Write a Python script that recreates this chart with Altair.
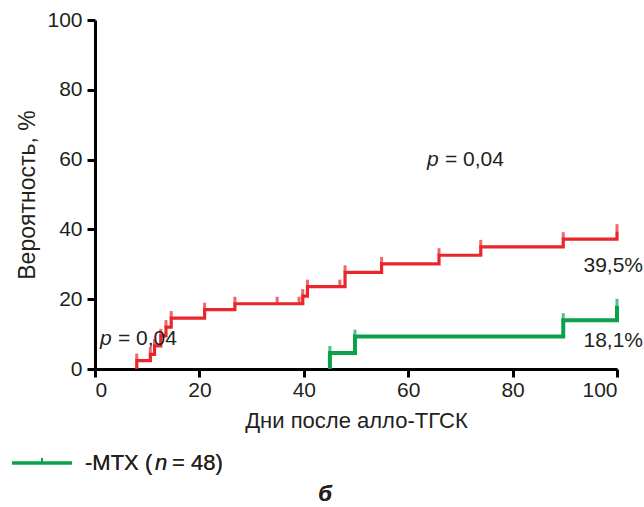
import altair as alt
import pandas as pd

# Cumulative incidence curves (days after allo-HSCT, probability in %)
red_days = [8, 10.6, 11.4, 12.6, 13.6, 14.6, 21, 26.8, 39.8, 40.7, 47.9, 54.9, 65.9, 73.9, 89.7, 100]
red_prob = [2.4, 4.2, 6.6, 9.5, 12.0, 14.6, 17.0, 18.7, 20.9, 23.6, 27.7, 30.1, 32.6, 35.0, 37.2, 39.5]
red_censored_days = [34.9, 39.1, 46.9]
red_censored_prob = [18.7, 18.7, 23.6]

green_days = [45, 49.8, 89.7, 100]
green_prob = [4.6, 9.3, 14.0, 18.1]

x_ticks = [0, 20, 40, 60, 80, 100]
y_ticks = [0, 20, 40, 60, 80, 100]

p_value = "0,04"
p_positions_x = [63.6, 0.96]
p_positions_y = [60, 8.6]

legend_label = "-MTX ("
legend_n = "n"
legend_tail = "= 48)"
panel_letter = "б"

RED = "#e8262b"
GREEN = "#0ba14b"
INK = "#231f20"
FONT = "Liberation Sans"

series = {"red": (red_days, red_prob), "green": (green_days, green_prob)}

step_rows, jump_rows = [], []
for name, (days, prob) in series.items():
    step_rows.append({"series": name, "day": days[0], "prob": 0.0, "order": 0})
    for i, (d, p) in enumerate(zip(days, prob)):
        step_rows.append({"series": name, "day": d, "prob": p, "order": i + 1})
        jump_rows.append({"series": name, "day": d, "prob": p})
for d, p in zip(red_censored_days, red_censored_prob):
    jump_rows.append({"series": "red", "day": d, "prob": p})

steps = pd.DataFrame(step_rows)
marks = pd.DataFrame(jump_rows)
ends = pd.DataFrame([
    {"series": name, "day": days[-1], "prob": prob[-1],
     "label": f"{prob[-1]:.1f}%".replace(".", ",")}
    for name, (days, prob) in series.items()
])
pvals = pd.DataFrame({"day": p_positions_x, "prob": p_positions_y})

color = alt.Color("series:N", scale=alt.Scale(domain=["red", "green"], range=[RED, GREEN]), legend=None)
width = alt.StrokeWidth("series:N", scale=alt.Scale(domain=["red", "green"], range=[3.2, 4]), legend=None)

x_enc = alt.X(
    "day:Q",
    scale=alt.Scale(domain=[0, 100], nice=False),
    axis=alt.Axis(
        values=x_ticks, title="Дни после алло-ТГСК", grid=False,
        domainColor="black", domainWidth=3, tickColor="black", tickWidth=3, tickSize=8,
        labelFont=FONT, labelFontSize=21, labelColor=INK, labelPadding=2,
        titleFont=FONT, titleFontSize=22, titleFontWeight="normal", titleColor=INK, titlePadding=10,
    ),
)
y_enc = alt.Y(
    "prob:Q",
    scale=alt.Scale(domain=[0, 100], nice=False),
    axis=alt.Axis(
        values=y_ticks, title="Вероятность, %", grid=False,
        domainColor="black", domainWidth=3, tickColor="black", tickWidth=3, tickSize=8,
        labelFont=FONT, labelFontSize=21, labelColor=INK, labelPadding=5,
        titleFont=FONT, titleFontSize=23, titleFontWeight="normal", titleColor=INK, titlePadding=7,
    ),
)

lines = alt.Chart(steps).mark_line(interpolate="step-after").encode(
    x=x_enc, y=y_enc, color=color, strokeWidth=width, detail="series:N", order="order:Q"
)

ticks = alt.Chart(marks).mark_tick(orient="vertical", size=7, thickness=3, yOffset=-3.5).encode(
    x="day:Q", y="prob:Q", color=color
)

end_labels = alt.Chart(ends).mark_text(
    align="right", baseline="middle", dx=26, dy=35, font=FONT, fontSize=21, color=INK
).encode(x="day:Q", y="prob:Q", text="label:N")

p_italic = alt.Chart(pvals).mark_text(
    align="left", baseline="middle", font=FONT, fontSize=21, fontStyle="italic", color=INK
).encode(x="day:Q", y="prob:Q", text=alt.value("p"))
p_rest = alt.Chart(pvals).mark_text(
    align="left", baseline="middle", dx=18, font=FONT, fontSize=21, color=INK
).encode(x="day:Q", y="prob:Q", text=alt.value(f"= {p_value}"))

# Legend drawn below the axes
leg_line = alt.Chart(pvals).mark_rule(color=GREEN, strokeWidth=3).encode(
    x=alt.value(-83), x2=alt.value(-23), y=alt.value(443)
)
leg_tick = alt.Chart(pvals).mark_rule(color=GREEN, strokeWidth=2).encode(
    x=alt.value(-53), y=alt.value(443), y2=alt.value(438)
)
leg_text = alt.Chart(pvals).mark_text(
    align="left", baseline="middle", font=FONT, fontSize=22, color=INK
).encode(x=alt.value(-10), y=alt.value(443), text=alt.value(legend_label))
leg_n = alt.Chart(pvals).mark_text(
    align="left", baseline="middle", font=FONT, fontSize=22, fontStyle="italic", color=INK
).encode(x=alt.value(60), y=alt.value(443), text=alt.value(legend_n))
leg_tail = alt.Chart(pvals).mark_text(
    align="left", baseline="middle", font=FONT, fontSize=22, color=INK
).encode(x=alt.value(77), y=alt.value(443), text=alt.value(legend_tail))

letter = alt.Chart(pvals).mark_text(
    align="center", baseline="middle", font=FONT, fontSize=22, fontStyle="italic",
    fontWeight="bold", color=INK
).encode(x=alt.value(230), y=alt.value(474), text=alt.value(panel_letter))

chart = alt.layer(
    lines, ticks, end_labels, p_italic, p_rest,
    leg_line, leg_tick, leg_text, leg_n, leg_tail, letter
).properties(
    width=522, height=349,
    autosize=alt.AutoSizeParams(type="none"),
    padding={"left": 95, "top": 20, "right": 27, "bottom": 138},
    background="white",
).configure_view(stroke=None)

chart.save("out.html", embed_options={"renderer": "svg", "actions": False})
